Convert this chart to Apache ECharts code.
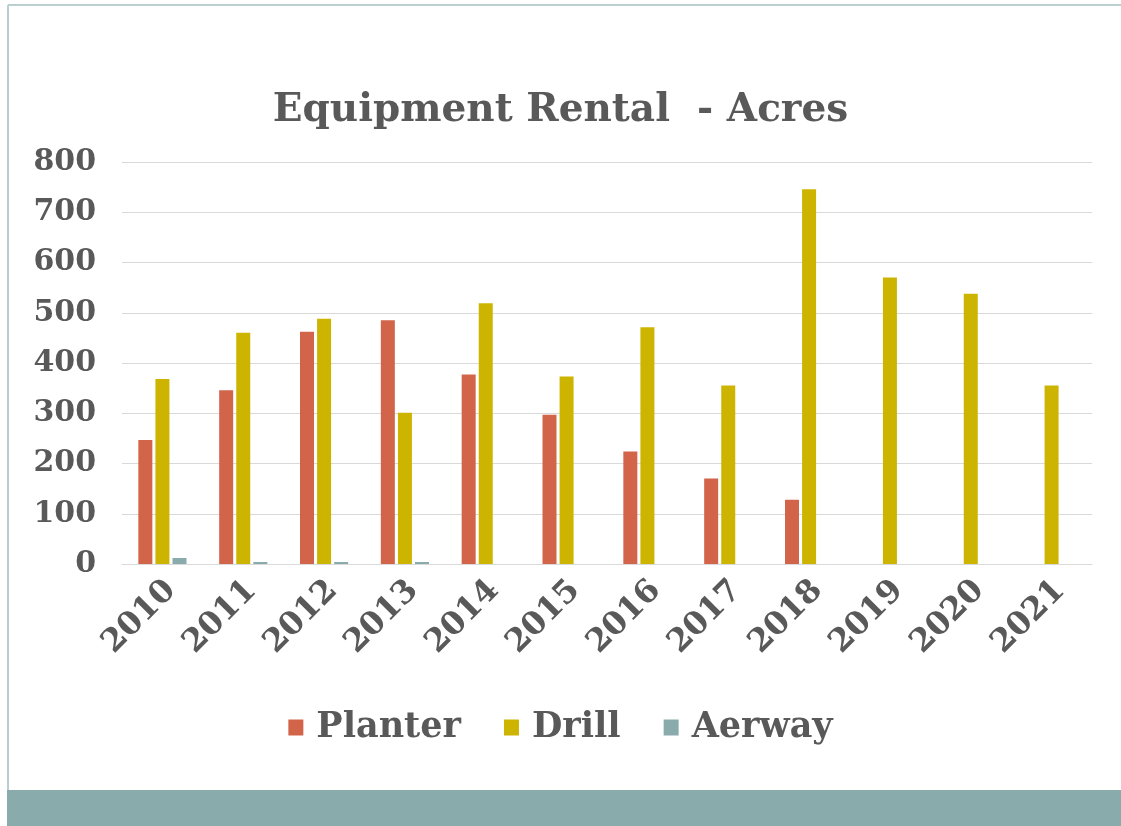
<!DOCTYPE html>
<html>
<head>
    <meta charset="utf-8">
    <title>Equipment Rental - Acres</title>
    <script src="https://cdn.jsdelivr.net/npm/echarts@6/dist/echarts.min.js"></script>
    <style>
        html, body { margin: 0; padding: 0; background: #fff; }
        #main { width: 1121px; height: 826px; }
    </style>
</head>
<body>
<div id="main"></div>
<script>
    // 年份
    var years = ['2010', '2011', '2012', '2013', '2014', '2015', '2016', '2017', '2018', '2019', '2020', '2021'];
    // 各设备租用面积
    var planter = [247, 346, 462, 485, 377, 297, 224, 170, 128, 0, 0, 0];
    var drill = [368, 460, 488, 301, 519, 373, 471, 355, 746, 570, 538, 355];
    var aerway = [12, 4, 4, 4, 0, 0, 0, 0, 0, 0, 0, 0];

    var font = 'DejaVu Serif';
    var textColor = '#595959';

    var chart = echarts.init(document.getElementById('main'));

    var option = {
        backgroundColor: '#fff',
        animation: false,
        title: {
            text: 'Equipment Rental  - Acres',
            left: 'center',
            top: 86,
            textStyle: {
                color: textColor,
                fontFamily: font,
                fontWeight: 'bold',
                fontSize: 39
            }
        },
        legend: {
            bottom: 76,
            left: 'center',
            itemWidth: 15,
            itemHeight: 16,
            itemGap: 43,
            icon: 'rect',
            textStyle: {
                color: textColor,
                fontFamily: font,
                fontWeight: 'bold',
                fontSize: 35,
                padding: [0, 0, 0, 8]
            },
            data: ['Planter', 'Drill', 'Aerway']
        },
        grid: {
            left: 122,
            right: 29,
            top: 162,
            bottom: 262
        },
        xAxis: {
            type: 'category',
            data: years,
            axisLine: { lineStyle: { color: '#d9d9d9' } },
            axisTick: { show: false },
            axisLabel: {
                rotate: 45,
                margin: 30,
                interval: 0,
                color: textColor,
                fontFamily: font,
                fontWeight: 'bold',
                fontSize: 32,
                padding: [0, -12, 0, 0]
            }
        },
        yAxis: {
            type: 'value',
            min: 0,
            max: 800,
            interval: 100,
            axisLine: { show: false },
            axisTick: { show: false },
            splitLine: { lineStyle: { color: '#d9d9d9' } },
            axisLabel: {
                margin: 26,
                color: textColor,
                fontFamily: font,
                fontWeight: 'bold',
                fontSize: 30
            }
        },
        graphic: [
            // 外框
            { type: 'line', shape: { x1: 8, y1: 5, x2: 1121, y2: 5 }, style: { stroke: '#bccfcf', lineWidth: 2 } },
            { type: 'line', shape: { x1: 8, y1: 5, x2: 8, y2: 790 }, style: { stroke: '#bccfcf', lineWidth: 2 } },
            // 底部色带
            { type: 'rect', shape: { x: 7, y: 790, width: 1114, height: 36 }, style: { fill: '#8aabab' } }
        ],
        series: [
            {
                name: 'Planter',
                type: 'bar',
                barWidth: 14,
                barGap: '22%',
                itemStyle: { color: '#d2644a' },
                data: planter
            },
            {
                name: 'Drill',
                type: 'bar',
                barWidth: 14,
                itemStyle: { color: '#cdb400' },
                data: drill
            },
            {
                name: 'Aerway',
                type: 'bar',
                barWidth: 14,
                itemStyle: { color: '#8aabab' },
                data: aerway
            }
        ]
    };

    chart.setOption(option);
</script>
</body>
</html>
